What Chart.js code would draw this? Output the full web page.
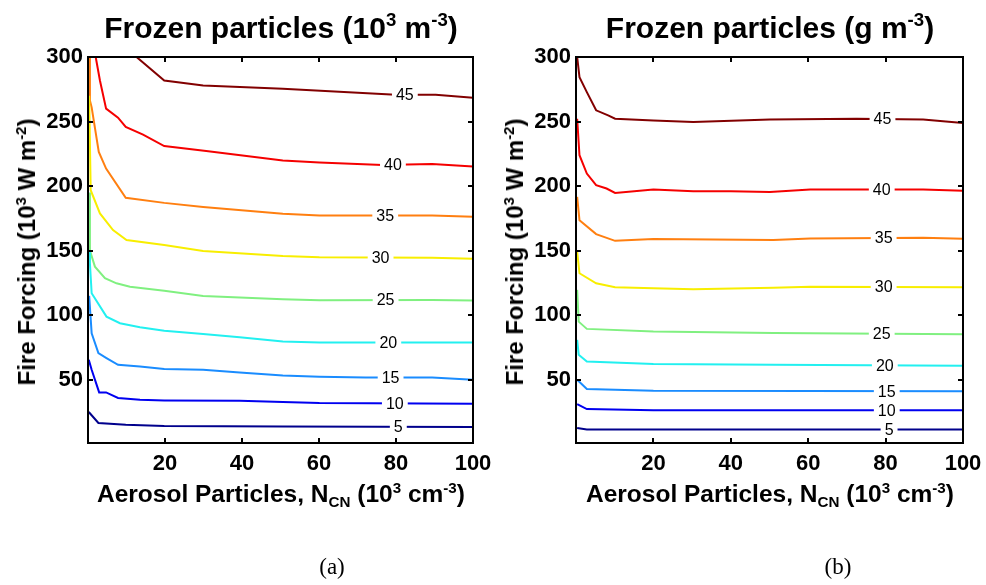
<!DOCTYPE html>
<html>
<head>
<meta charset="utf-8">
<script src="https://cdn.jsdelivr.net/npm/chart.js@4"></script>
<style>
  body { margin: 0; background: #fff; }
  #wrap { position: relative; width: 986px; height: 585px; overflow: hidden; font-family: "Liberation Sans", Arial, sans-serif; }
  canvas { position: absolute; top: 0; }
  .t { position: absolute; white-space: nowrap; font-weight: bold; color: #000; line-height: 1; transform: translateX(-50%); }
  .t sup, .t sub { font-size: 0.62em; position: relative; vertical-align: baseline; }
  .t sup { top: -0.62em; }
  .t sub { top: 0.35em; }
  .ttl { font-size: 30px; top: 13px; }
  .xl { font-size: 24.5px; top: 482px; }
  .yl { font-size: 24px; transform: translate(-50%, -50%) rotate(-90deg); }
  .cap { position: absolute; font-family: "Liberation Serif", "Times New Roman", serif; font-size: 23px; transform: translateX(-50%); top: 554px; }
</style>
</head>
<body>
<div id="wrap">
  <canvas id="chartA" width="493" height="585" style="left:0"></canvas>
  <canvas id="chartB" width="493" height="585" style="left:493px"></canvas>
  <div class="t ttl" style="left:281px">Frozen particles (10<sup>3</sup> m<sup>-3</sup>)</div>
  <div class="t ttl" style="left:770px">Frozen particles (g m<sup>-3</sup>)</div>
  <div class="t xl" style="left:281px">Aerosol Particles, N<sub>CN</sub> (10<sup>3</sup> cm<sup>-3</sup>)</div>
  <div class="t xl" style="left:770px">Aerosol Particles, N<sub>CN</sub> (10<sup>3</sup> cm<sup>-3</sup>)</div>
  <div class="t yl" style="left:27px; top:252px">Fire Forcing (10<sup>3</sup> W m<sup>-2</sup>)</div>
  <div class="t yl" style="left:515px; top:252px">Fire Forcing (10<sup>3</sup> W m<sup>-2</sup>)</div>
  <div class="cap" style="left:332px">(a)</div>
  <div class="cap" style="left:838px">(b)</div>
</div>
<script>
// contour levels and tick values
const levels = [5, 10, 15, 20, 25, 30, 35, 40, 45];
const xTicks = [20, 40, 60, 80, 100];
const yTicks = [50, 100, 150, 200, 250, 300];

// (a) number concentration contours, [N_CN, forcing]
const a05 = [[0.2,25],[2.7,16.5],[9.8,15.2],[19.8,14.2],[50.6,13.7],[100,13.4]];
const a10 = [[0.2,65.5],[0.95,57.7],[2.9,40.2],[4.7,40.2],[7.8,35.9],[13.5,34.5],[19.8,34],[39.4,33.7],[50.6,32.8],[60.1,32],[100,31.5]];
const a15 = [[0.3,115],[0.95,86],[2.7,70.6],[4.8,66.8],[7.8,61.6],[13.5,60.3],[19.8,58.3],[29.9,57.7],[39.4,55.6],[50.6,53.3],[60.1,52.3],[72.1,51.8],[89.4,51.8],[100,50]];
const a20 = [[0.3,150],[0.5,140],[0.95,117],[4.8,98.9],[8.3,93.8],[13.5,90.7],[19.8,87.9],[29.9,85.5],[39.4,83],[50.6,79.6],[60.1,78.8],[89.4,78.8],[100,78.8]];
const a25 = [[0.3,195],[0.5,150],[1.8,137.6],[4.4,128.6],[7.4,124.7],[10.9,122.1],[19.8,119],[29.9,114.9],[50.6,112.4],[60.1,111.6],[89.4,111.8],[100,111.3]];
const a30 = [[0.3,270],[0.7,196.8],[3.1,178.8],[6.5,165.9],[10,158.2],[19.8,154.3],[29.9,149.7],[50.6,145.8],[60.1,144.8],[89.4,144.5],[100,143.7]];
const a35 = [[0.35,300],[0.5,266.4],[0.95,261],[2.8,226.4],[4.7,213.6],[9.8,190.9],[19.8,187],[29.9,183.9],[50.6,178.5],[60.1,177.3],[89.4,177.3],[100,176.2]];
const a40 = [[2.0,300],[3.1,281.8],[4.7,260],[7.8,253],[9.8,245.8],[14.3,239.9],[19.8,231],[30.7,227.2],[50.6,219.8],[60.1,218.2],[76.5,216.4],[89.4,217.1],[100,215.1]];
const a45 = [[12.6,300],[19.8,281.8],[29.9,278],[50.6,275.4],[79.9,270.8],[90.3,270.8],[100,268.5]];
const aLabelX = [80.6, 79.7, 78.6, 78, 77.3, 76, 77.2, 79.2, 82.3];

// (b) mass concentration contours
const b05 = [[0.3,12.6],[2.8,11.4],[100,11.4]];
const b10 = [[0.3,31.2],[2.8,27.3],[20,26.3],[100,26.3]];
const b15 = [[0.3,50],[2.8,42.8],[20,41.5],[100,41]];
const b20 = [[0.3,80.9],[0.7,69.3],[2.8,64.1],[20,62.1],[51,61.6],[100,60.8]];
const b25 = [[0.3,119.6],[0.7,95],[2.8,89.4],[20,87.3],[51,86.3],[100,85.3]];
const b30 = [[0.3,149.2],[0.9,132.5],[5.2,124.7],[10.1,121.6],[20,120.9],[30.3,120.1],[51,121.3],[60.5,122.1],[100,121.6]];
const b35 = [[0.3,191.6],[0.9,173.6],[5.2,162.8],[10.1,157.6],[20,159],[51,158.2],[60.5,159.5],[89.7,160],[100,159.2]];
const b40 = [[0.3,252.2],[0.9,223.9],[2.8,209.7],[5.2,200.7],[7.9,198.1],[10.1,194.7],[20,197.4],[30.3,196.1],[40,196.1],[50.1,195.5],[60.5,197.4],[89.7,197.4],[100,196.3]];
const b45 = [[0.3,300],[0.9,284.4],[2.8,272.8],[5.2,258.7],[8.3,254.8],[10.1,252.2],[20,250.9],[30.3,249.6],[50.1,251.5],[72.5,252.2],[89.7,251.5],[100,248.8]];
const bLabelX = [80.9, 80.3, 80.3, 79.8, 79, 79.5, 79.5, 79, 79.2];

// jet-like colours, one per level
const colors = ['#00008c', '#0000f0', '#1a8cff', '#22f0f0', '#80f080', '#f8ee00', '#ff7f10', '#f50000', '#820000'];

const font = '"Liberation Sans", Arial, sans-serif';

// inline contour labels + box with inward ticks
const contourDecor = {
  id: 'contourDecor',
  afterDatasetsDraw(chart, args, opts) {
    const ctx = chart.ctx, xs = chart.scales.x, ys = chart.scales.y, area = chart.chartArea;
    ctx.save();
    ctx.font = '16px ' + font;
    ctx.textAlign = 'center';
    ctx.textBaseline = 'middle';
    chart.data.datasets.forEach((ds, i) => {
      const lx = opts.labelX[i];
      const pts = ds.data;
      let ly = null;
      for (let k = 0; k < pts.length - 1; k++) {
        if (pts[k].x <= lx && pts[k + 1].x >= lx) {
          const f = (lx - pts[k].x) / (pts[k + 1].x - pts[k].x);
          ly = pts[k].y + f * (pts[k + 1].y - pts[k].y);
          break;
        }
      }
      if (ly === null) return;
      const px = xs.getPixelForValue(lx), py = ys.getPixelForValue(ly);
      const txt = String(levels[i]);
      const w = ctx.measureText(txt).width + 8;
      ctx.fillStyle = '#fff';
      ctx.fillRect(px - w / 2, py - 6, w, 12);
      ctx.fillStyle = '#000';
      ctx.fillText(txt, px, py + 1);
    });
    // frame
    ctx.strokeStyle = '#000';
    ctx.lineWidth = 2;
    ctx.strokeRect(area.left, area.top, area.right - area.left, area.bottom - area.top);
    const tl = 5;
    ctx.beginPath();
    xTicks.forEach(v => {
      const p = Math.round(xs.getPixelForValue(v));
      ctx.moveTo(p, area.bottom); ctx.lineTo(p, area.bottom - tl);
      ctx.moveTo(p, area.top); ctx.lineTo(p, area.top + tl);
    });
    yTicks.forEach(v => {
      const p = Math.round(ys.getPixelForValue(v));
      ctx.moveTo(area.left, p); ctx.lineTo(area.left + tl, p);
      ctx.moveTo(area.right, p); ctx.lineTo(area.right - tl, p);
    });
    ctx.stroke();
    ctx.restore();
  }
};

function makeChart(id, lines, labelX, yWidth, padRight) {
  const datasets = lines.map((ln, i) => ({
    label: String(levels[i]),
    data: ln.map(p => ({ x: p[0], y: p[1] })),
    borderColor: colors[i],
    borderWidth: 2,
    pointRadius: 0,
    showLine: true,
    tension: 0,
    fill: false
  }));
  return new Chart(document.getElementById(id).getContext('2d'), {
    type: 'scatter',
    data: { datasets: datasets },
    options: {
      responsive: false,
      animation: false,
      layout: { padding: { top: 57, right: padRight, bottom: 102, left: 0 } },
      plugins: {
        legend: { display: false },
        tooltip: { enabled: false },
        contourDecor: { labelX: labelX }
      },
      scales: {
        x: {
          type: 'linear', min: 0, max: 100,
          grid: { display: false, drawTicks: false },
          border: { display: false },
          afterBuildTicks: s => { s.ticks = xTicks.map(v => ({ value: v })); },
          afterFit: s => { s.height = 40; s.paddingLeft = 0; s.paddingRight = 0; },
          ticks: { padding: 8, color: '#000', font: { family: font, size: 22, weight: 'bold' }, maxRotation: 0 }
        },
        y: {
          type: 'linear', min: 1, max: 300,
          grid: { display: false, drawTicks: false },
          border: { display: false },
          afterBuildTicks: s => { s.ticks = yTicks.map(v => ({ value: v })); },
          afterFit: s => { s.width = yWidth; s.paddingTop = 0; s.paddingBottom = 0; },
          ticks: { padding: 5, color: '#000', font: { family: font, size: 22, weight: 'bold' } }
        }
      }
    },
    plugins: [contourDecor]
  });
}

makeChart('chartA', [a05, a10, a15, a20, a25, a30, a35, a40, a45], aLabelX, 88, 20);
makeChart('chartB', [b05, b10, b15, b20, b25, b30, b35, b40, b45], bLabelX, 83, 23);
</script>
</body>
</html>
